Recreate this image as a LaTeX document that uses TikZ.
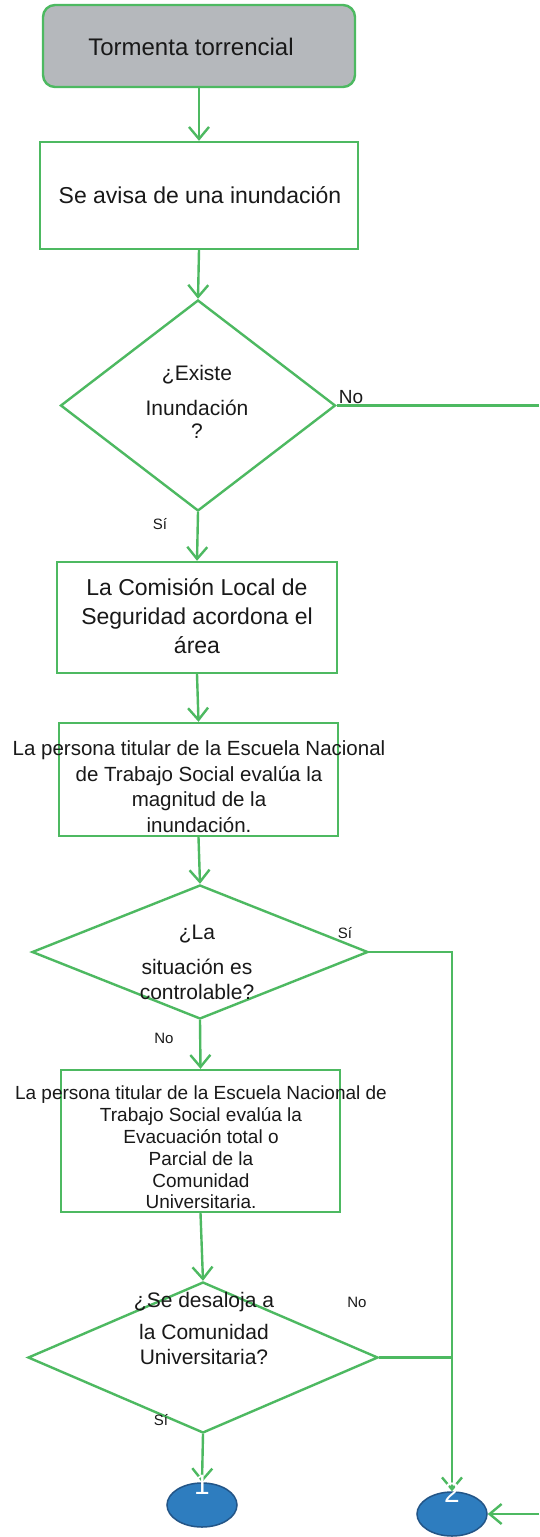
\documentclass[tikz,border=0pt]{standalone}
\usepackage{fontspec}
\setmainfont{Liberation Sans}
\usetikzlibrary{shapes.geometric,arrows.meta}
\definecolor{lgreen}{RGB}{77,185,97}
\definecolor{sgray}{RGB}{181,184,188}
\definecolor{eblue}{RGB}{46,125,191}
\definecolor{eborder}{RGB}{35,85,135}
\definecolor{txt}{RGB}{25,25,25}
\begin{document}
\begin{tikzpicture}[x=1pt,y=-1pt,
  flow/.style={draw=lgreen, line width=2.4pt},
  arr/.style={flow, -{Straight Barb[length=12pt,width=20pt]}},
  procbox/.style={draw=lgreen, line width=2.4pt, rectangle, inner sep=0pt},
  decis/.style={draw=lgreen, line width=2.4pt, diamond, inner sep=0pt},
  term/.style={ellipse, draw=eborder, line width=1.5pt, fill=eblue, inner sep=0pt, minimum width=70pt, minimum height=44pt},
  lbl/.style={font=\fontsize{15}{18}\selectfont, text=txt, inner sep=0pt},
  body/.style={text=txt, inner sep=0pt, align=center},
  digit/.style={text=white, inner sep=0pt, anchor=base, font=\fontsize{28}{30}\selectfont},
]
\useasboundingbox (0,0) rectangle (539,1537);
\fill[white] (0,0) rectangle (539,1537);

% shapes
\node[procbox, rounded corners=12pt, fill=sgray, minimum width=312pt, minimum height=82pt] (start) at (199,46) {};
\node[procbox, minimum width=318pt, minimum height=107pt] (box2) at (199,195.5) {};
\node[decis, minimum width=275pt, minimum height=211pt] (d1) at (198,405.5) {};
\node[procbox, minimum width=280pt, minimum height=111pt] (box3) at (197,617.5) {};
\node[procbox, minimum width=279pt, minimum height=113pt] (box4) at (198.5,779.5) {};
\node[decis, minimum width=336pt, minimum height=134pt] (d2) at (200,952) {};
\node[procbox, minimum width=279pt, minimum height=142pt] (box5) at (200.5,1141) {};
\node[decis, minimum width=350pt, minimum height=151pt] (d3) at (203,1357.5) {};
\node[term] (e1) at (202,1505) {};
\node[term] (e2) at (452,1514) {};

\coordinate (offA) at (539,405.5);
\coordinate (offB) at (539,1514);

% connectors
\draw[arr] (start.south) -- (box2.north);
\draw[arr] (box2.south) -- (d1.north);
\draw[flow] (d1.east) -- (offA);
\draw[arr] (d1.south) -- (box3.north);
\draw[arr] (box3.south) -- (box4.north);
\draw[arr] (box4.south) -- (d2.north);
\draw[arr] (d2.east) -| (e2.north);
\draw[arr] (d2.south) -- (box5.north);
\draw[arr] (box5.south) -- (d3.north);
\draw[flow] (d3.east) -- (d3.east -| e2.north);
\draw[arr] (d3.south) -- (e1.north);
\draw[arr] (offB) -- (e2.east);

% texts
\node[body, font=\fontsize{24}{28}\selectfont] (t1) at (191,47) {Tormenta torrencial};
\node[body, font=\fontsize{23}{28}\selectfont] (t2) at (200,195) {Se avisa de una inundación};
\node[body, font=\fontsize{21}{23}\selectfont] (td1) at (197,402) {¿Existe\\[12pt]Inundación\\?};
\node[body, font=\fontsize{23}{29}\selectfont] (t3) at (197,616.5) {La Comisión Local de\\Seguridad acordona el\\área};
\node[body, font=\fontsize{20.5}{25.5}\selectfont] (t4) at (199,786.5) {La persona titular de la Escuela Nacional\\de Trabajo Social evalúa la\\magnitud de la\\inundación.};
\node[body, font=\fontsize{21}{25}\selectfont] (td2) at (197,962) {¿La\\[10pt]situación es\\controlable?};
\node[body, font=\fontsize{19}{21.8}\selectfont] (t5) at (201,1147.5) {La persona titular de la Escuela Nacional de\\Trabajo Social evalúa la\\Evacuación total o\\Parcial de la\\Comunidad\\Universitaria.};
\node[body, font=\fontsize{21}{25}\selectfont] (td3) at (204,1328.5) {¿Se desaloja a\\[7pt]la Comunidad\\Universitaria?};

% branch labels
\node[lbl, font=\fontsize{19}{22}\selectfont] (l1) at (351,397) {No};
\node[lbl] (l2) at (160,524) {Sí};
\node[lbl] (l3) at (345,933) {Sí};
\node[lbl] (l4) at (164,1038) {No};
\node[lbl] (l5) at (357,1302) {No};
\node[lbl] (l6) at (161,1420) {Sí};

% terminator digits
\node[digit] (n1) at (202,1494) {1};
\node[digit] (n2) at (452,1502) {2};
\end{tikzpicture}
\end{document}
